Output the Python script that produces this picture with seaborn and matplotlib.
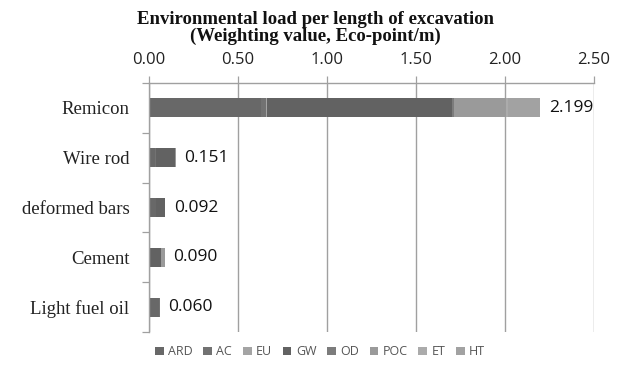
import matplotlib
matplotlib.use("Agg")
import matplotlib.pyplot as plt
import seaborn as sns
import numpy as np
import pandas as pd
from matplotlib.patches import Patch
from matplotlib.ticker import FixedLocator

categories = ["Remicon", "Wire rod", "deformed bars", "Cement", "Light fuel oil"]
impacts = ["ARD", "AC", "EU", "GW", "OD", "POC", "ET", "HT"]
ARD = [0.630, 0.035, 0.037, 0.010, 0.058]
AC = [0.030, 0.002, 0.001, 0.001, 0.001]
EU = [0.005, 0.001, 0.000, 0.000, 0.000]
GW = [1.040, 0.108, 0.050, 0.058, 0.000]
OD = [0.010, 0.000, 0.000, 0.000, 0.000]
POC = [0.290, 0.003, 0.002, 0.019, 0.001]
ET = [0.010, 0.001, 0.001, 0.001, 0.000]
HT = [0.184, 0.001, 0.001, 0.001, 0.000]
totals = [2.199, 0.151, 0.092, 0.090, 0.060]
total_labels = ["2.199", "0.151", "0.092", "0.090", "0.060"]
xticks = [0.0, 0.5, 1.0, 1.5, 2.0, 2.5]

colors = {"ARD": "#686868", "AC": "#727272", "EU": "#a4a4a4", "GW": "#626262",
          "OD": "#7c7c7c", "POC": "#9a9a9a", "ET": "#ababab", "HT": "#a2a2a2"}

df = pd.DataFrame({"ARD": ARD, "AC": AC, "EU": EU, "GW": GW, "OD": OD,
                   "POC": POC, "ET": ET, "HT": HT}, index=categories)
cum = df.cumsum(axis=1)

sns.set_theme(style="white")
plt.rcParams["font.family"] = ["DejaVu Sans"]

fig = plt.figure(figsize=(6.18, 3.76), dpi=100)
ax = fig.add_axes([149 / 618, 1 - 332 / 376, 445 / 618, 249 / 376])

for imp in reversed(impacts):
    d = pd.DataFrame({"category": categories, "value": cum[imp].values})
    sns.barplot(data=d, x="value", y="category", order=categories, color=colors[imp],
                orient="h", width=0.38, ax=ax, saturation=1, edgecolor="none")

ax.set_xlim(0, 2.5)
ax.set_ylim(4.5, -0.5)
ax.set_xlabel("")
ax.set_ylabel("")
ax.xaxis.tick_top()
ax.xaxis.set_major_locator(FixedLocator(xticks))
ax.set_xticklabels([f"{v:.2f}" for v in xticks], fontsize=12, color="#222222",
                   family="Open Sans")
ax.tick_params(axis="x", which="major", direction="out", length=5, width=0.9,
               color="#a0a0a0", pad=6, top=True, bottom=False)
ax.grid(axis="x", color="#a0a0a0", linewidth=1.0)
ax.set_axisbelow(True)

ax.set_yticks(range(len(categories)))
ax.set_yticklabels(categories, fontsize=13.5, family="Liberation Serif", color="#222222")
ax.tick_params(axis="y", which="major", length=0, pad=14, left=False)
ax.yaxis.set_minor_locator(FixedLocator(np.arange(-0.5, 5, 1.0)))
ax.tick_params(axis="y", which="minor", direction="out", length=5, width=0.9,
               color="#a0a0a0", left=True)

for s in ["right", "bottom"]:
    ax.spines[s].set_visible(False)
for s in ["left", "top"]:
    ax.spines[s].set_color("#a0a0a0")
    ax.spines[s].set_linewidth(1.0)

for i, (t, lab) in enumerate(zip(totals, total_labels)):
    ax.annotate(lab, xy=(cum["HT"].values[i], i), xytext=(6, 0), textcoords="offset points",
                va="center", ha="left", fontsize=12.5, family="Open Sans", color="#111111")

fig.text(0.51, 0.925, "Environmental load per length of excavation\n(Weighting value, Eco-point/m)",
         ha="center", va="center", fontsize=13.5, fontweight="bold",
         family="Liberation Serif", color="#111111", linespacing=1.0)

handles = [Patch(facecolor=colors[k], edgecolor="none") for k in impacts]
fig.legend(handles, impacts, loc="center", bbox_to_anchor=(0.518, 0.064), ncol=8,
           frameon=False, handlelength=0.7, handleheight=0.7,
           handletextpad=0.35, columnspacing=0.85,
           prop={"family": "Open Sans", "size": 9}, labelcolor="#555555")

fig.savefig("out.png", dpi=100)
